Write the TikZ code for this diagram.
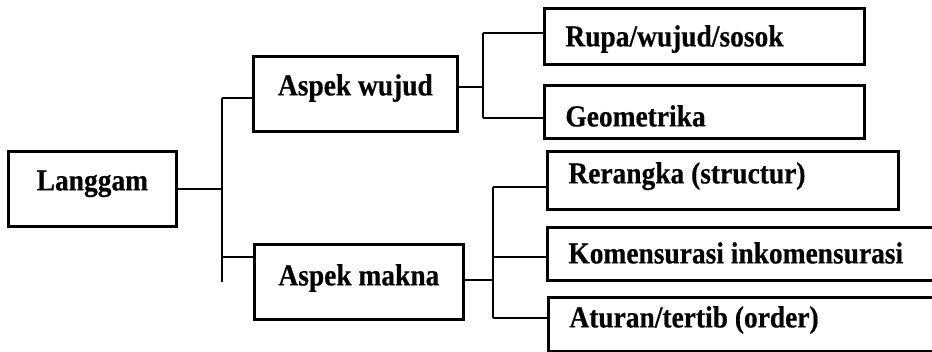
\documentclass[tikz,border=0pt]{standalone}
\usepackage{fontspec}
\setmainfont{Liberation Serif}[FakeStretch=0.9,
  BoldFeatures={FakeStretch=0.9, FakeBold=0.45}]
\begin{document}
\begin{tikzpicture}[x=1pt,y=-1pt,
  box/.style={draw, line width=2.8pt, inner ysep=0pt,
    font=\fontsize{30.5}{33}\selectfont\bfseries},
  cbox/.style={box, inner xsep=0pt},
  lbox/.style={box, inner xsep=21pt, align=left,
    execute at begin node={\spaceskip=0pt\xspaceskip=0pt\relax}},
  link/.style={line width=2.7pt}]
\path[use as bounding box, clip] (0,0) rectangle (932,351);

% root and first level (text height/depth place the baseline inside each box)
\node[cbox, anchor=north west, minimum width=168pt, text height=39pt, text depth=36pt] (lang) at (7,150) {Langgam};
\node[cbox, anchor=north west, minimum width=204pt, text height=39pt, text depth=36pt] (wujud) at (252,55) {Aspek wujud};
\node[cbox, anchor=north west, minimum width=209pt, text height=41pt, text depth=34pt] (makna) at (253,243) {Aspek makna};

% second level, text set flush left with the font's own word space
\node[lbox, anchor=north west, text width=278pt, text height=38pt, text depth=18pt] (rupa) at (543,7) {Rupa/wujud/sosok};
\node[lbox, anchor=north west, text width=278pt, text height=41pt, text depth=12pt] (geo) at (543,84) {Geometrika};
\node[lbox, anchor=north west, text width=309pt, text height=32pt, text depth=26pt] (rer) at (546,150) {Rerangka (structur)};
\node[lbox, anchor=north west, text width=370pt, text height=36pt, text depth=17pt] (kom) at (546,226) {Komensurasi inkomensurasi};
\node[lbox, anchor=north west, text width=370pt, text height=30pt, text depth=24pt] (atu) at (547,296) {Aturan/tertib (order)};

% junctions
\coordinate (ta) at (222,98);
\coordinate (tb) at (222,257);
\coordinate (tc) at (222,282);
\coordinate (wa) at (483,33);
\coordinate (wm) at (483,87);
\coordinate (wb) at (483,118);
\coordinate (ma) at (493,187);
\coordinate (mk) at (493,257);
\coordinate (mm) at (493,280);
\coordinate (mb) at (493,318);

% Langgam branches
\draw[link] (lang.east) -- (lang.east -| ta);
\draw[link] (ta) -- (tc);
\draw[link] (ta) -- (ta -| wujud.west);
\draw[link] (tb) -- (tb -| makna.west);

% Aspek wujud branches
\draw[link] (wm -| wujud.east) -- (wm);
\draw[link] (wa) -- (wb);
\draw[link] (wa) -- (wa -| rupa.west);
\draw[link] (wb) -- (wb -| geo.west);

% Aspek makna branches
\draw[link] (mm -| makna.east) -- (mm);
\draw[link] (ma) -- (mb);
\draw[link] (ma) -- (ma -| rer.west);
\draw[link] (mk) -- (mk -| kom.west);
\draw[link] (mb) -- (mb -| atu.west);
\end{tikzpicture}
\end{document}
